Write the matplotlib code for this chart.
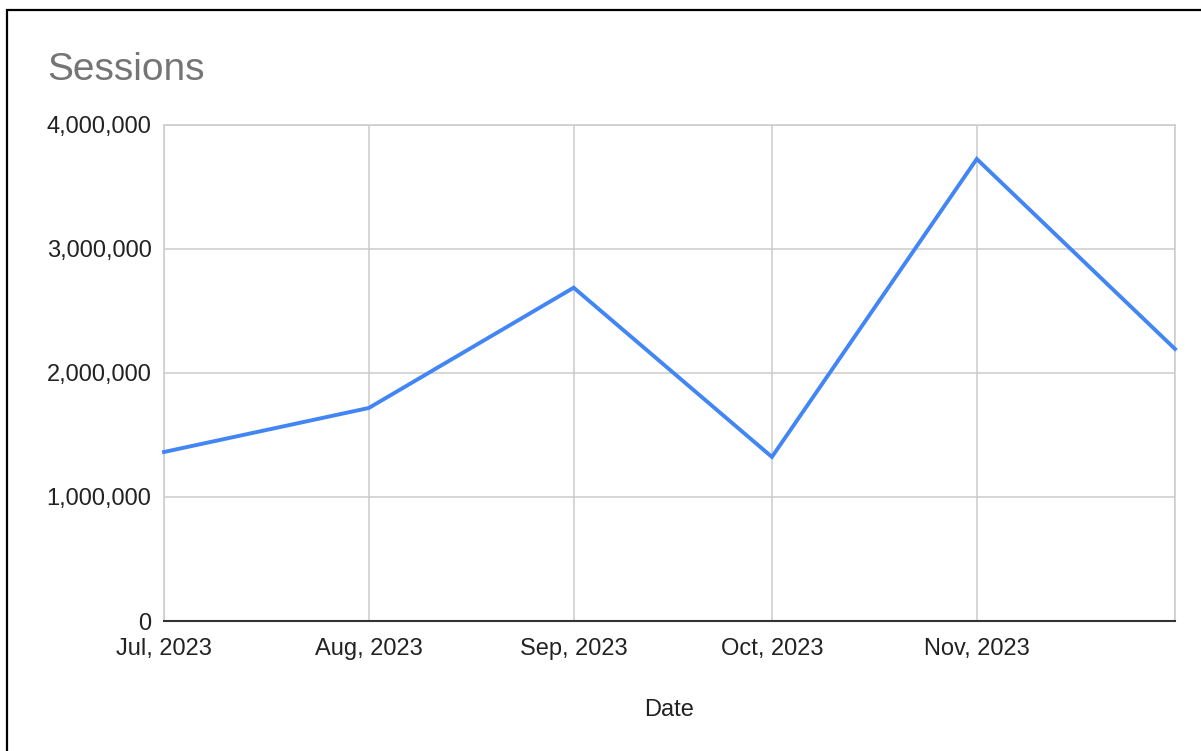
import matplotlib
matplotlib.use("Agg")

from datetime import date

import matplotlib.pyplot as plt
import matplotlib.ticker as mticker
from matplotlib.patches import Rectangle


MONTHS = [date(2023, 7, 1), date(2023, 8, 1), date(2023, 9, 1),
          date(2023, 10, 1), date(2023, 11, 1), date(2023, 12, 1)]
SESSIONS = [1363000, 1718000, 2688000, 1323000, 3726000, 2194000]
TICK_LABELS = ["Jul, 2023", "Aug, 2023", "Sep, 2023", "Oct, 2023", "Nov, 2023", ""]
Y_TICKS = [0, 1000000, 2000000, 3000000, 4000000]

W, H = 1201, 751

plt.rcParams["font.family"] = ["Liberation Sans", "DejaVu Sans"]

fig = plt.figure(figsize=(W / 100, H / 100), dpi=100)
ax = fig.add_axes([164 / W, 1 - 621 / H, (1175 - 164) / W, (621 - 125) / H])

ax.plot(MONTHS, SESSIONS, color="#4285F4", linewidth=2.8, solid_joinstyle="miter",
        clip_on=False, zorder=3)

ax.set_xlim(MONTHS[0], MONTHS[-1])
ax.set_ylim(0, 4000000)
ax.set_xticks(MONTHS)
ax.set_xticklabels(TICK_LABELS)
ax.set_yticks(Y_TICKS)
ax.yaxis.set_major_formatter(mticker.FuncFormatter(lambda v, _: f"{int(v):,}"))

ax.grid(True, color="#cccccc", linewidth=1.1)
ax.set_axisbelow(True)
ax.tick_params(length=0, labelsize=17, colors="#222222")
ax.tick_params(axis="y", pad=9)
ax.tick_params(axis="x", pad=12)
for side in ["top", "right", "left"]:
    ax.spines[side].set_color("#cccccc")
    ax.spines[side].set_linewidth(1.1)
ax.spines["bottom"].set_color("#333333")
ax.spines["bottom"].set_linewidth(1.5)

ax.set_xlabel("Date", fontsize=17, color="#222222", labelpad=28)
fig.text(47 / W, 1 - 80 / H, "Sessions", fontsize=28, color="#757575", ha="left", va="baseline")

fig.patches.append(Rectangle((7 / W, -0.1), 1.2, 1 - 10 / H + 0.1, transform=fig.transFigure,
                             fill=False, edgecolor="black", linewidth=1.6))

fig.savefig("out.png", dpi=100)
